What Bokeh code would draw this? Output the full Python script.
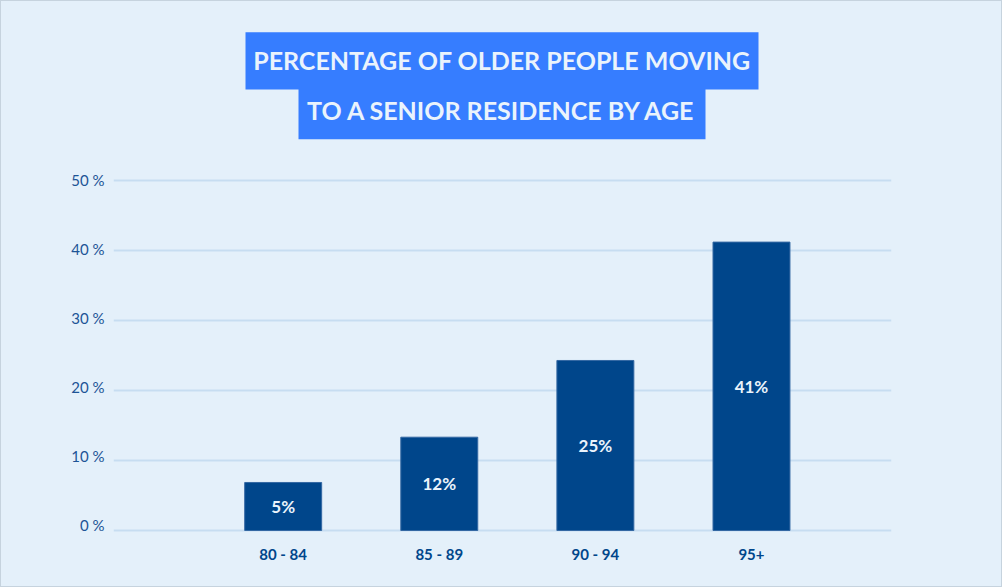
from bokeh.plotting import figure
from bokeh.layouts import column
from bokeh.models import Range1d, FixedTicker, LinearAxis, ColumnDataSource
from bokeh.core.properties import value
from bokeh.embed import file_html
from bokeh.resources import INLINE

# ---- data ----
categories = ["80 - 84", "85 - 89", "90 - 94", "95+"]
bar_heights = [6.86, 13.33, 24.29, 41.2]
bar_labels = ["5%", "12%", "25%", "41%"]
y_ticks = [0, 10, 20, 30, 40, 50]
title_lines = ["PERCENTAGE OF OLDER PEOPLE MOVING", "TO A SENIOR RESIDENCE BY AGE"]

# ---- styles ----
BG = "#e4f0fa"
GRID = "#c7ddf1"
BAR = "#00468b"
TITLE_BOX = "#367dff"
TITLE_TEXT = "#eaf3fc"
TICK_TEXT = "#1d5496"
FONT = "Lato"
W = 1002
TITLE_H = 150
MAIN_H = 587 - TITLE_H
LEFT, RIGHT = 113, 111

# ---- title panel (pixel coordinates, y downward) ----
t = figure(width=W, height=TITLE_H, output_backend="svg", toolbar_location=None,
           x_range=Range1d(LEFT, W - RIGHT), y_range=Range1d(TITLE_H, 0),
           x_axis_location=None, y_axis_location=None,
           min_border_left=LEFT, min_border_right=RIGHT, min_border_top=0, min_border_bottom=0)
t.background_fill_alpha = 0
t.border_fill_alpha = 0
t.outline_line_color = None
t.grid.visible = False
t.quad(left=[245, 298], right=[758, 705], top=[31.7, 88.5], bottom=[89, 138.7],
       fill_color=TITLE_BOX, line_color=None)
t.text(x=[501.5, 501.5], y=[59.8, 109.5], text=title_lines, text_align="center",
       text_baseline="middle", text_font=value(FONT), text_font_style="bold",
       text_font_size="25px", text_color=TITLE_TEXT)

# ---- main chart ----
xs = list(range(len(categories)))

p = figure(width=W, height=MAIN_H, output_backend="svg", toolbar_location=None,
           x_range=Range1d(-1.087, 3.897), y_range=Range1d(-2 / 7, 50 + 2 / 7),
           min_border_left=LEFT, min_border_right=RIGHT,
           min_border_top=178 - TITLE_H, min_border_bottom=55)
p.background_fill_alpha = 0
p.border_fill_alpha = 0
p.outline_line_color = None

p.xgrid.visible = False
p.ygrid.ticker = FixedTicker(ticks=y_ticks)
p.ygrid.grid_line_color = GRID
p.ygrid.grid_line_width = 2

p.yaxis.visible = False
p.extra_y_ranges = {"lab": Range1d(-1.117, 50.247)}
yax = LinearAxis(y_range_name="lab", ticker=FixedTicker(ticks=y_ticks),
                 major_label_overrides={tk: f"{tk} %" for tk in y_ticks})
yax.axis_line_color = None
yax.major_tick_line_color = None
yax.minor_tick_line_color = None
yax.major_tick_out = 0
yax.major_tick_in = 0
yax.major_label_standoff = 9
yax.major_label_text_font = FONT
yax.major_label_text_font_size = "15px"
yax.major_label_text_color = TICK_TEXT
p.add_layout(yax, "left")

xax = p.xaxis[0]
xax.ticker = FixedTicker(ticks=xs)
xax.major_label_overrides = {i: c for i, c in zip(xs, categories)}
xax.axis_line_color = None
xax.major_tick_line_color = None
xax.minor_tick_line_color = None
xax.major_tick_out = 0
xax.major_tick_in = 0
xax.major_label_standoff = 12
xax.major_label_text_font = FONT
xax.major_label_text_font_style = "bold"
xax.major_label_text_font_size = "15px"
xax.major_label_text_color = BAR

src = ColumnDataSource(dict(x=xs, top=bar_heights, label=bar_labels,
                            mid=[h / 2 for h in bar_heights]))
p.vbar(x="x", top="top", bottom=0, width=0.493, source=src,
       fill_color=BAR, line_color="#3468a3", line_width=1)
p.text(x="x", y="mid", text="label", source=src, text_align="center",
       text_baseline="middle", text_font=value(FONT), text_font_style="bold",
       text_font_size="17px", text_color=TITLE_TEXT)

layout = column(t, p, spacing=0,
                styles={"background-color": BG, "box-shadow": "inset 0 0 0 1px #c6d3de"})
open("out.html", "w").write(file_html(layout, INLINE))
